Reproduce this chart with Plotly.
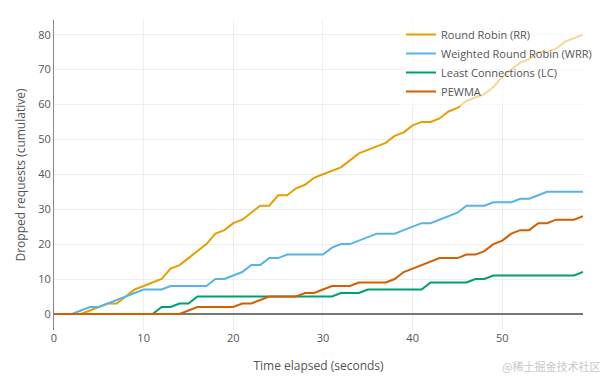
import plotly.graph_objects as go

t = list(range(60))

rr = [0, 0, 0, 0, 1, 2, 3, 3, 5, 7, 8, 9, 10, 13, 14, 16, 18, 20, 23, 24,
      26, 27, 29, 31, 31, 34, 34, 36, 37, 39, 40, 41, 42, 44, 46, 47, 48, 49, 51, 52,
      54, 55, 55, 56, 58, 59, 61, 62, 63, 65, 68, 70, 72, 73, 75, 75, 76, 78, 79, 80]
wrr = [0, 0, 0, 1, 2, 2, 3, 4, 5, 6, 7, 7, 7, 8, 8, 8, 8, 8, 10, 10,
       11, 12, 14, 14, 16, 16, 17, 17, 17, 17, 17, 19, 20, 20, 21, 22, 23, 23, 23, 24,
       25, 26, 26, 27, 28, 29, 31, 31, 31, 32, 32, 32, 33, 33, 34, 35, 35, 35, 35, 35]
lc = [0, 0, 0, 0, 0, 0, 0, 0, 0, 0, 0, 0, 2, 2, 3, 3, 5, 5, 5, 5,
      5, 5, 5, 5, 5, 5, 5, 5, 5, 5, 5, 5, 6, 6, 6, 7, 7, 7, 7, 7,
      7, 7, 9, 9, 9, 9, 9, 10, 10, 11, 11, 11, 11, 11, 11, 11, 11, 11, 11, 12]
pewma = [0, 0, 0, 0, 0, 0, 0, 0, 0, 0, 0, 0, 0, 0, 0, 1, 2, 2, 2, 2,
         2, 3, 3, 4, 5, 5, 5, 5, 6, 6, 7, 8, 8, 8, 9, 9, 9, 9, 10, 12,
         13, 14, 15, 16, 16, 16, 17, 17, 18, 20, 21, 23, 24, 24, 26, 26, 27, 27, 27, 28]

names = ["Round Robin (RR)", "Weighted Round Robin (WRR)", "Least Connections (LC)", "PEWMA"]
colors = ["#E69F00", "#56B4E9", "#009E73", "#D55E00"]
series = [rr, wrr, lc, pewma]

fig = go.Figure()
for name, color, ys in zip(names, colors, series):
    fig.add_trace(go.Scatter(x=t, y=ys, mode="lines", name=name,
                             line=dict(color=color, width=2)))

fig.update_layout(
    width=604, height=369,
    margin=dict(l=46, r=29, t=12, b=47, autoexpand=False),
    paper_bgcolor="white", plot_bgcolor="white",
    font=dict(family="Open Sans, Verdana, Arial, sans-serif", size=11, color="#555"),
    legend=dict(x=0.656, y=1.0, xanchor="left", yanchor="top",
                bgcolor="rgba(255,255,255,0.6)", font=dict(size=11, color="#555"),
                tracegroupgap=0, itemwidth=30),
    xaxis=dict(range=[0, 59], dtick=10, showgrid=True, gridcolor="#eeeeee",
               zeroline=False, showline=False, ticks="", automargin=False,
               title=dict(text="Time elapsed (seconds)", font=dict(size=12), standoff=17)),
    yaxis=dict(range=[-4.6, 84.2], dtick=10, showgrid=True, gridcolor="#eeeeee",
               zeroline=True, zerolinecolor="#777777", zerolinewidth=1.5,
               showline=True, linecolor="#888888", linewidth=1, ticks="", automargin=False,
               title=dict(text="Dropped requests (cumulative)", font=dict(size=12), standoff=10)),
    showlegend=True,
)

fig.add_annotation(text="@稀土掘金技术社区", xref="paper", yref="paper",
                   x=1.035, y=-0.116, xanchor="right", yanchor="middle", showarrow=False,
                   font=dict(family="Noto Sans CJK SC", size=11, color="#c8c8c8"))

fig.write_html("out.html")
